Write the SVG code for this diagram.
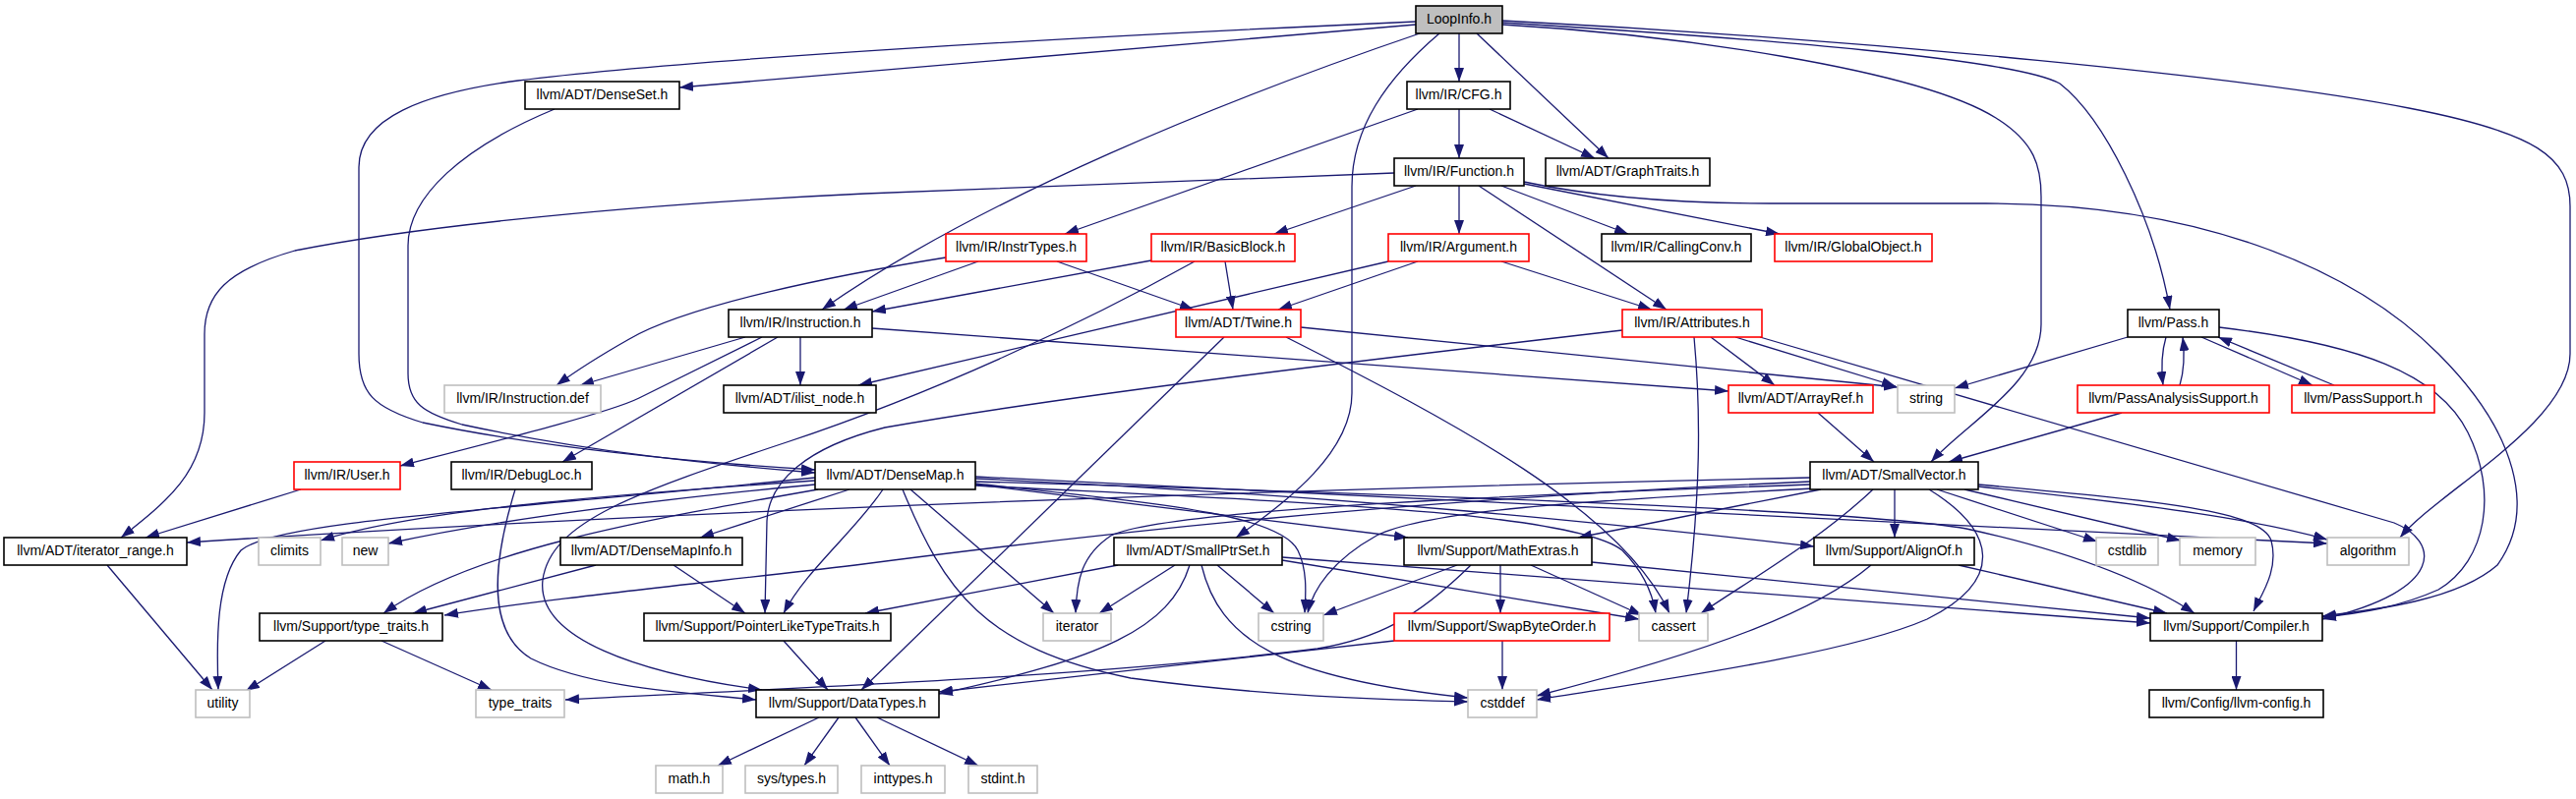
<svg xmlns="http://www.w3.org/2000/svg" width="2620" height="813" viewBox="0 0 2620 813">
<style>
.n rect{fill:#fff;stroke:#000;stroke-width:1.6}
.r rect{stroke:#ff0000}
.g rect{stroke:#bfbfbf}
.root rect{fill:#bfbfbf}
text{font-family:"Liberation Sans",Arial,sans-serif;font-size:14px;text-anchor:middle;fill:#000}
#edges path{fill:none;stroke:#191970;stroke-width:1.3;marker-end:url(#arr)}
</style>
<defs>
<marker id="arr" viewBox="0 0 14 10" refX="14" refY="5" markerWidth="14" markerHeight="10" markerUnits="userSpaceOnUse" orient="auto">
<path d="M0,0 L14,5 L0,10 z" fill="#191970" stroke="none"/>
</marker>
</defs>
<rect x="0" y="0" width="2620" height="813" fill="#fff"/>
<g id="edges">
<path d="M1440,22 C1100,37 700,60 527,82 C430,95 365,120 365,170 L365,360 C365,400 380,415 430,430 C550,455 700,470 829,478"/>
<path d="M1440,25 L691,89"/>
<path d="M1444,34 C1250,100 1000,200 836,315"/>
<path d="M1484,34 L1484,83"/>
<path d="M1502,34 L1636,161"/>
<path d="M1464,34 C1410,80 1375,130 1375,190 L1375,400 C1375,460 1310,510 1257,547"/>
<path d="M1528,25 C1700,35 1950,70 2030,120 C2070,145 2076,170 2076,200 L2076,330 C2076,390 2000,430 1964,470"/>
<path d="M1528,23 C1800,40 2050,60 2095,85 C2140,120 2190,220 2207,315"/>
<path d="M1528,21 C1900,40 2300,80 2450,110 C2580,135 2614,160 2614,210 L2614,360 C2614,430 2480,500 2441,547"/>
<path d="M564,111 C470,150 415,200 415,250 L415,380 C415,410 430,420 470,432 C600,460 720,472 829,481"/>
<path d="M1484,111 L1484,161"/>
<path d="M1515,111 L1622,161"/>
<path d="M1442,111 L1083,238"/>
<path d="M1418,176 L880,197 C600,210 400,235 300,255 C230,275 208,300 208,340 L208,420 C208,480 170,510 123,547"/>
<path d="M1440,189 L1296,238"/>
<path d="M1484,189 L1484,238"/>
<path d="M1504,189 L1695,315"/>
<path d="M1527,189 L1656,238"/>
<path d="M1550,187 L1810,238"/>
<path d="M1550,185 C1620,200 1700,207 1800,207 L2020,207 C2250,207 2400,280 2480,360 C2560,440 2580,520 2540,575 C2500,610 2420,620 2362,627"/>
<path d="M995,266 L858,315"/>
<path d="M1075,266 L1214,315"/>
<path d="M962,262 C850,280 700,310 640,345 C610,362 585,378 566,392"/>
<path d="M1171,265 L887,317"/>
<path d="M1246,266 L1254,315"/>
<path d="M1215,266 C1100,330 950,400 800,450 C650,500 560,530 552,590 C545,650 650,685 775,702"/>
<path d="M1442,266 L1300,315"/>
<path d="M1527,266 L1680,315"/>
<path d="M1412,266 L873,392"/>
<path d="M758,343 L590,392"/>
<path d="M814,343 L814,392"/>
<path d="M775,343 L650,405 C620,420 500,450 407,474"/>
<path d="M791,343 L572,470"/>
<path d="M887,334 L1758,398"/>
<path d="M1245,343 L876,702"/>
<path d="M1323,333 L1930,394"/>
<path d="M1308,343 C1480,430 1650,520 1698,624"/>
<path d="M1740,343 L1805,392"/>
<path d="M1765,343 L1928,393"/>
<path d="M1790,343 L2435,532 C2480,550 2490,600 2362,630"/>
<path d="M1723,343 C1730,420 1730,500 1715,624"/>
<path d="M1650,336 C1400,365 1100,400 900,435 C820,455 782,490 780,530 L778,624"/>
<path d="M2164,343 L1988,395"/>
<path d="M2203,343 C2198,360 2198,375 2200,392"/>
<path d="M2217,392 C2222,375 2222,360 2220,343"/>
<path d="M2239,343 L2352,392"/>
<path d="M2374,392 L2256,343"/>
<path d="M2257,333 C2400,350 2480,380 2510,440 C2540,500 2530,570 2480,600 C2440,618 2400,624 2362,628"/>
<path d="M2158,420 L1982,470"/>
<path d="M1849,420 L1906,470"/>
<path d="M306,498 L148,547"/>
<path d="M524,498 C505,560 490,640 540,670 C600,700 700,705 769,712"/>
<path d="M829,486 C500,520 280,530 245,560 C220,590 220,650 222,702"/>
<path d="M829,489 C600,505 420,520 326,550"/>
<path d="M829,493 C650,510 500,530 395,553"/>
<path d="M832,498 C650,530 480,560 390,624"/>
<path d="M864,498 L712,547"/>
<path d="M898,498 C870,540 820,580 797,624"/>
<path d="M926,498 L1072,624"/>
<path d="M918,498 C960,600 1000,660 1150,690 C1300,710 1420,712 1493,714"/>
<path d="M992,492 C1150,510 1300,520 1320,560 C1330,580 1328,605 1327,624"/>
<path d="M992,493 L1432,547"/>
<path d="M992,494 C1300,510 1600,520 1650,560 C1670,580 1680,600 1684,624"/>
<path d="M992,487 C1400,505 1700,540 1845,556"/>
<path d="M992,485 L2367,553"/>
<path d="M992,490 C1500,505 1900,520 2000,538 C2100,560 2180,590 2232,624"/>
<path d="M1841,486 C1200,500 600,525 190,552"/>
<path d="M1841,490 C1400,510 1100,545 870,575 C700,595 550,610 452,626"/>
<path d="M1841,493 C1500,505 1180,520 1130,545 C1100,565 1095,590 1094,624"/>
<path d="M1845,497 C1600,510 1450,520 1400,545 C1355,570 1335,600 1330,624"/>
<path d="M1852,498 L1605,547"/>
<path d="M1905,498 C1850,550 1780,590 1730,624"/>
<path d="M1927,498 L1927,547"/>
<path d="M1962,498 C2030,540 2040,590 1960,630 C1880,665 1700,690 1563,712"/>
<path d="M1970,498 L2133,551"/>
<path d="M1998,498 L2218,550"/>
<path d="M2012,493 C2200,510 2300,520 2310,550 C2318,580 2300,605 2292,622"/>
<path d="M2012,495 C2200,515 2300,530 2367,549"/>
<path d="M1137,575 L880,624"/>
<path d="M1195,575 L1118,624"/>
<path d="M1210,575 C1190,640 1120,670 955,706"/>
<path d="M1222,575 C1240,650 1300,690 1493,710"/>
<path d="M1238,575 L1296,624"/>
<path d="M1304,570 L1667,630"/>
<path d="M1304,567 L2187,634"/>
<path d="M1482,575 L1346,626"/>
<path d="M1496,575 C1440,630 1400,650 1340,660 C1100,690 800,700 575,712"/>
<path d="M1526,575 L1526,624"/>
<path d="M1557,575 L1670,626"/>
<path d="M1619,572 L2187,629"/>
<path d="M1418,652 L955,704"/>
<path d="M1528,652 L1528,702"/>
<path d="M1903,575 C1850,620 1750,660 1563,708"/>
<path d="M1992,575 L2204,624"/>
<path d="M606,575 L420,624"/>
<path d="M685,575 L758,624"/>
<path d="M331,652 L250,703"/>
<path d="M388,652 L500,702"/>
<path d="M109,575 L216,702"/>
<path d="M797,652 L842,702"/>
<path d="M833,730 L730,779"/>
<path d="M853,730 L818,779"/>
<path d="M870,730 L905,779"/>
<path d="M892,730 L995,779"/>
<path d="M2274.5,652 L2274.5,702"/>
</g>
<g id="n-loopinfo" class="n root"><rect x="1440" y="6" width="88" height="28"/><text x="1484" y="24">LoopInfo.h</text></g>
<g id="n-denseset" class="n"><rect x="534" y="83" width="157" height="28"/><text x="612.5" y="101">llvm/ADT/DenseSet.h</text></g>
<g id="n-cfg" class="n"><rect x="1431" y="83" width="105" height="28"/><text x="1483.5" y="101">llvm/IR/CFG.h</text></g>
<g id="n-function" class="n"><rect x="1418" y="161" width="132" height="28"/><text x="1484" y="179">llvm/IR/Function.h</text></g>
<g id="n-graphtraits" class="n"><rect x="1572" y="161" width="167" height="28"/><text x="1655.5" y="179">llvm/ADT/GraphTraits.h</text></g>
<g id="n-instrtypes" class="n r"><rect x="962" y="238" width="143" height="28"/><text x="1033.5" y="256">llvm/IR/InstrTypes.h</text></g>
<g id="n-basicblock" class="n r"><rect x="1171" y="238" width="146" height="28"/><text x="1244" y="256">llvm/IR/BasicBlock.h</text></g>
<g id="n-argument" class="n r"><rect x="1412" y="238" width="143" height="28"/><text x="1483.5" y="256">llvm/IR/Argument.h</text></g>
<g id="n-callingconv" class="n"><rect x="1629" y="238" width="152" height="28"/><text x="1705" y="256">llvm/IR/CallingConv.h</text></g>
<g id="n-globalobject" class="n r"><rect x="1805" y="238" width="160" height="28"/><text x="1885" y="256">llvm/IR/GlobalObject.h</text></g>
<g id="n-instruction" class="n"><rect x="741" y="315" width="146" height="28"/><text x="814" y="333">llvm/IR/Instruction.h</text></g>
<g id="n-twine" class="n r"><rect x="1196" y="315" width="127" height="28"/><text x="1259.5" y="333">llvm/ADT/Twine.h</text></g>
<g id="n-attributes" class="n r"><rect x="1650" y="315" width="142" height="28"/><text x="1721" y="333">llvm/IR/Attributes.h</text></g>
<g id="n-pass" class="n"><rect x="2164" y="315" width="93" height="28"/><text x="2210.5" y="333">llvm/Pass.h</text></g>
<g id="n-instructiondef" class="n g"><rect x="452" y="392" width="159" height="28"/><text x="531.5" y="410">llvm/IR/Instruction.def</text></g>
<g id="n-ilistnode" class="n"><rect x="736" y="392" width="155" height="28"/><text x="813.5" y="410">llvm/ADT/ilist_node.h</text></g>
<g id="n-arrayref" class="n r"><rect x="1758" y="392" width="147" height="28"/><text x="1831.5" y="410">llvm/ADT/ArrayRef.h</text></g>
<g id="n-string" class="n g"><rect x="1930" y="392" width="58" height="28"/><text x="1959" y="410">string</text></g>
<g id="n-passanalysissupport" class="n r"><rect x="2113" y="392" width="195" height="28"/><text x="2210.5" y="410">llvm/PassAnalysisSupport.h</text></g>
<g id="n-passsupport" class="n r"><rect x="2331" y="392" width="145" height="28"/><text x="2403.5" y="410">llvm/PassSupport.h</text></g>
<g id="n-user" class="n r"><rect x="299" y="470" width="108" height="28"/><text x="353" y="488">llvm/IR/User.h</text></g>
<g id="n-debugloc" class="n"><rect x="459" y="470" width="143" height="28"/><text x="530.5" y="488">llvm/IR/DebugLoc.h</text></g>
<g id="n-densemap" class="n"><rect x="829" y="470" width="163" height="28"/><text x="910.5" y="488">llvm/ADT/DenseMap.h</text></g>
<g id="n-smallvector" class="n"><rect x="1841" y="470" width="171" height="28"/><text x="1926.5" y="488">llvm/ADT/SmallVector.h</text></g>
<g id="n-iteratorrange" class="n"><rect x="4" y="547" width="186" height="28"/><text x="97" y="565">llvm/ADT/iterator_range.h</text></g>
<g id="n-climits" class="n g"><rect x="263" y="547" width="63" height="28"/><text x="294.5" y="565">climits</text></g>
<g id="n-new" class="n g"><rect x="348" y="547" width="47" height="28"/><text x="371.5" y="565">new</text></g>
<g id="n-densemapinfo" class="n"><rect x="570" y="547" width="185" height="28"/><text x="662.5" y="565">llvm/ADT/DenseMapInfo.h</text></g>
<g id="n-smallptrset" class="n"><rect x="1133" y="547" width="171" height="28"/><text x="1218.5" y="565">llvm/ADT/SmallPtrSet.h</text></g>
<g id="n-mathextras" class="n"><rect x="1428" y="547" width="191" height="28"/><text x="1523.5" y="565">llvm/Support/MathExtras.h</text></g>
<g id="n-alignof" class="n"><rect x="1845" y="547" width="163" height="28"/><text x="1926.5" y="565">llvm/Support/AlignOf.h</text></g>
<g id="n-cstdlib" class="n g"><rect x="2132" y="547" width="63" height="28"/><text x="2163.5" y="565">cstdlib</text></g>
<g id="n-memory" class="n g"><rect x="2217" y="547" width="77" height="28"/><text x="2255.5" y="565">memory</text></g>
<g id="n-algorithm" class="n g"><rect x="2367" y="547" width="83" height="28"/><text x="2408.5" y="565">algorithm</text></g>
<g id="n-typetraitsh" class="n"><rect x="264" y="624" width="186" height="28"/><text x="357" y="642">llvm/Support/type_traits.h</text></g>
<g id="n-pointerlike" class="n"><rect x="655" y="624" width="251" height="28"/><text x="780.5" y="642">llvm/Support/PointerLikeTypeTraits.h</text></g>
<g id="n-iterator" class="n g"><rect x="1061" y="624" width="69" height="28"/><text x="1095.5" y="642">iterator</text></g>
<g id="n-cstring" class="n g"><rect x="1280" y="624" width="66" height="28"/><text x="1313" y="642">cstring</text></g>
<g id="n-swapbyteorder" class="n r"><rect x="1418" y="624" width="219" height="28"/><text x="1527.5" y="642">llvm/Support/SwapByteOrder.h</text></g>
<g id="n-cassert" class="n g"><rect x="1667" y="624" width="70" height="28"/><text x="1702" y="642">cassert</text></g>
<g id="n-compiler" class="n"><rect x="2187" y="624" width="175" height="28"/><text x="2274.5" y="642">llvm/Support/Compiler.h</text></g>
<g id="n-utility" class="n g"><rect x="199" y="702" width="55" height="28"/><text x="226.5" y="720">utility</text></g>
<g id="n-typetraits" class="n g"><rect x="484" y="702" width="90" height="28"/><text x="529" y="720">type_traits</text></g>
<g id="n-datatypes" class="n"><rect x="769" y="702" width="186" height="28"/><text x="862" y="720">llvm/Support/DataTypes.h</text></g>
<g id="n-cstddef" class="n g"><rect x="1493" y="702" width="70" height="28"/><text x="1528" y="720">cstddef</text></g>
<g id="n-llvmconfig" class="n"><rect x="2186" y="702" width="177" height="28"/><text x="2274.5" y="720">llvm/Config/llvm-config.h</text></g>
<g id="n-math" class="n g"><rect x="667" y="779" width="68" height="28"/><text x="701" y="797">math.h</text></g>
<g id="n-systypes" class="n g"><rect x="758" y="779" width="94" height="28"/><text x="805" y="797">sys/types.h</text></g>
<g id="n-inttypes" class="n g"><rect x="876" y="779" width="85" height="28"/><text x="918.5" y="797">inttypes.h</text></g>
<g id="n-stdint" class="n g"><rect x="985" y="779" width="70" height="28"/><text x="1020" y="797">stdint.h</text></g>
</svg>
